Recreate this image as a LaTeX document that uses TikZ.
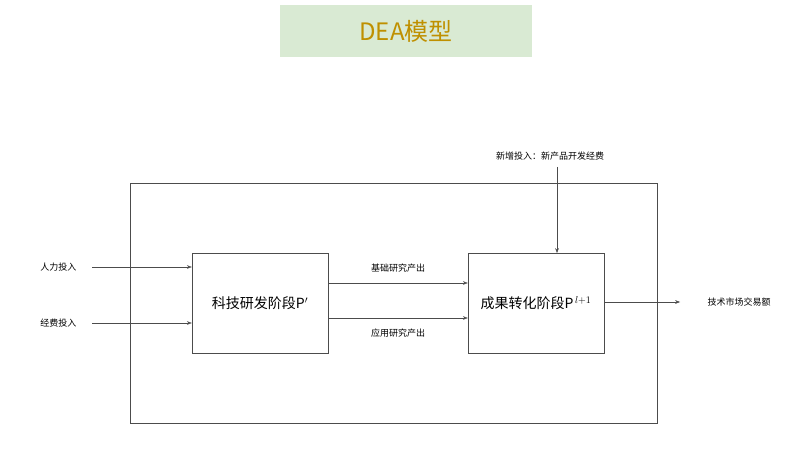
\documentclass[tikz,border=0pt]{standalone}
\usepackage{fontspec}
\setmainfont{Noto Sans CJK SC}
\usetikzlibrary{arrows.meta}
\definecolor{TitleGreen}{RGB}{217,234,211}
\definecolor{TitleGold}{RGB}{191,144,0}
\begin{document}
\begin{tikzpicture}[x=1pt,y=-1pt]
	\tikzstyle{stage}=[draw=black!70, minimum width=136pt, minimum height=100pt, font=\fontsize{14}{16}\selectfont];
	\tikzstyle{lbl}=[font=\fontsize{9}{11}\selectfont];
	\tikzstyle{flow}=[->, >=Stealth, draw=black!70];
	\useasboundingbox (0,0) rectangle (800,470);
	\node [fill=TitleGreen, minimum width=252pt, minimum height=52pt, text=TitleGold, font=\fontsize{24}{28}\selectfont] (title) at (406,31) {DEA模型};
	\node [draw=black!70, minimum width=527pt, minimum height=240pt] (frame) at (393.5,303) {};
	\node [stage] (rd) at (260,303) {科技研发阶段P$'$};
	\node [stage] (tr) at (536,303) {成果转化阶段P$^{\,l+1}$};
	\node [lbl, anchor=east] (labor) at (80,267) {人力投入};
	\node [lbl, anchor=east] (fund) at (80,323) {经费投入};
	\coordinate (c1) at (92,267);
	\coordinate (c2) at (92,323);
	\draw [flow] (c1) -- (c1 -| rd.west);
	\draw [flow] (c2) -- (c2 -| rd.west);
	\coordinate (m1) at (328,283);
	\coordinate (m2) at (328,318);
	\draw [flow] (m1) -- (m1 -| tr.west);
	\draw [flow] (m2) -- (m2 -| tr.west);
	\node [lbl] (basic) at (398,268) {基础研究产出};
	\node [lbl] (applied) at (398,333) {应用研究产出};
	\node [lbl] (extra) at (550,156) {新增投入：新产品开发经费};
	\draw [flow] (557,167) -- (557,253);
	\node [lbl, anchor=west] (market) at (704,302) {技术市场交易额};
	\coordinate (o1) at (680,302);
	\draw [flow] (o1 -| tr.east) -- (o1);
\end{tikzpicture}
\end{document}
